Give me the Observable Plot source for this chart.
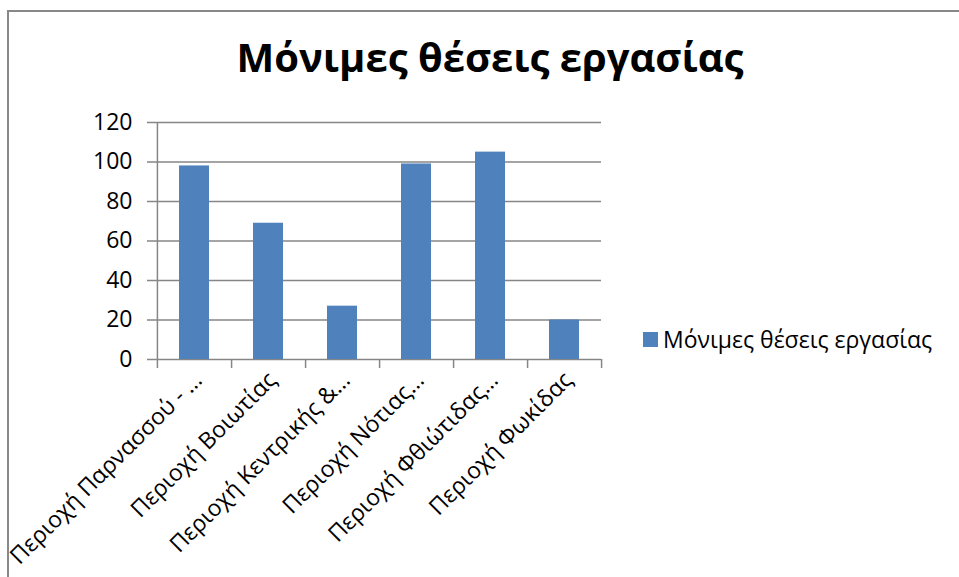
<!DOCTYPE html>
<html>
<head>
<meta charset="utf-8">
<script src="https://cdn.jsdelivr.net/npm/d3@7"></script>
<script src="https://cdn.jsdelivr.net/npm/@observablehq/plot@0.6"></script>
<style>
  html, body { margin: 0; padding: 0; background: #fff; }
  #wrap { position: relative; width: 959px; height: 577px; overflow: hidden; font-family: "Open Sans", sans-serif; }
  #border { position: absolute; left: 7px; top: 10px; width: 960px; height: 600px; border-left: 2px solid #888; border-top: 2px solid #888; box-sizing: border-box; }
  #title { position: absolute; left: 0; width: 980px; top: 33px; text-align: center; font-weight: 700; font-size: 40px; color: #000; line-height: 1.2; }
  #legend { position: absolute; left: 643px; top: 323px; display: flex; align-items: center; font-size: 23px; color: #000; white-space: nowrap; }
  #legend .sw { width: 15px; height: 15px; background: #4f81bd; margin-right: 5px; }
  #chart { position: absolute; left: 0; top: 0; }
</style>
</head>
<body>
<div id="wrap">
  <div id="border"></div>
  <div id="chart"></div>
  <div id="title"></div>
  <div id="legend"><div class="sw"></div><span id="legtext"></span></div>
</div>
<script>
const title = "Μόνιμες θέσεις εργασίας";
const seriesName = "Μόνιμες θέσεις εργασίας";
const regions = [
  "Περιοχή Παρνασσού - …",
  "Περιοχή Βοιωτίας",
  "Περιοχή Κεντρικής &…",
  "Περιοχή Νότιας…",
  "Περιοχή Φθιώτιδας…",
  "Περιοχή Φωκίδας"
];
const values = [98, 69, 27, 99, 105, 20];
const yTicks = [0, 20, 40, 60, 80, 100, 120];

const data = regions.map((r, i) => ({region: r, value: values[i]}));

document.getElementById("title").textContent = title;
document.getElementById("legtext").textContent = seriesName;

const W = 959, H = 577, mL = 156, mR = 358, mT = 122, mB = 218;
const step = (W - mL - mR) / regions.length;
const frameH = H - mT - mB;
const grid = "#868686";

const plot = Plot.plot({
  width: W,
  height: H,
  marginLeft: mL,
  marginRight: mR,
  marginTop: mT,
  marginBottom: mB,
  style: {fontFamily: "'Open Sans', sans-serif", background: "transparent", overflow: "visible"},
  x: {domain: regions, paddingInner: 0.6, paddingOuter: 0.3, axis: null},
  y: {domain: [0, 120], axis: null},
  marks: [
    Plot.ruleY(yTicks, {y: d => d, stroke: grid, strokeWidth: 1.5, insetLeft: -9}),
    Plot.barY(data, {x: "region", y: "value", fill: "#4f81bd"}),
    // y axis line
    Plot.ruleX([regions[0]], {x: d => d, dx: -step / 2, stroke: grid, strokeWidth: 1.5, insetBottom: -9}),
    // x axis boundary ticks
    Plot.ruleX(regions, {x: d => d, dx: step / 2, stroke: grid, strokeWidth: 1.5, insetTop: frameH, insetBottom: -9}),
    Plot.text(yTicks, {y: d => d, text: d => String(d), frameAnchor: "left", textAnchor: "end", dx: -24, fontSize: 23, fill: "#000"}),
    Plot.text(data, {x: "region", text: "region", frameAnchor: "bottom", rotate: -45, textAnchor: "end", dx: 9, dy: 22, fontSize: 23, fill: "#000"})
  ]
});
document.getElementById("chart").appendChild(plot);
</script>
</body>
</html>
